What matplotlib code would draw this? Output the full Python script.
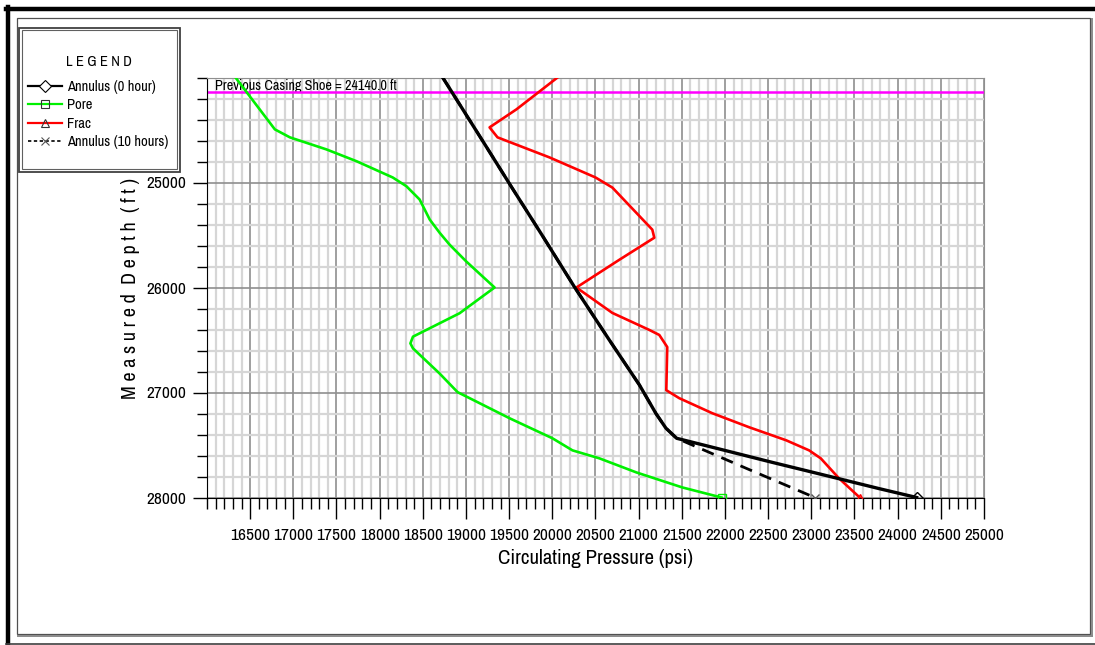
import matplotlib.pyplot as plt
from matplotlib.lines import Line2D
from matplotlib.patches import Rectangle
from matplotlib.ticker import FixedLocator, MultipleLocator

W, H = 1095, 645
NARROW = ['Archivo Narrow', 'Liberation Sans', 'DejaVu Sans']
plt.rcParams['font.family'] = NARROW

# circulating pressure profiles: measured depth (ft) vs pressure (psi)
annulus0_depth = [24000, 24600, 25040, 25500, 26000, 26500, 26930, 27200, 27340, 27436,
                  27530, 27665, 27790, 27915, 28000]
annulus0_psi = [18730, 19190, 19525, 19880, 20260, 20660, 21010, 21200, 21316, 21440,
                21895, 22546, 23167, 23783, 24220]

annulus10_depth = [24000, 24600, 25040, 25500, 26000, 26500, 26930, 27200, 27340, 27436,
                   27720, 28000]
annulus10_psi = [18730, 19190, 19525, 19880, 20260, 20660, 21010, 21200, 21316, 21440,
                 22240, 23040]

pore_depth = [24000, 24494, 24570, 24685, 24797, 24952, 25035, 25162, 25353, 25478,
              25592, 25752, 26000, 26245, 26468, 26532, 26580, 26819, 26997, 27054,
              27245, 27436, 27551, 27627, 27761, 27904, 28000]
pore_psi = [16330, 16786, 16960, 17384, 17731, 18151, 18309, 18463, 18580, 18694,
            18810, 19003, 19331, 18926, 18386, 18356, 18386, 18694, 18903, 19042,
            19504, 20001, 20233, 20545, 20973, 21505, 21960]

frac_depth = [24000, 24303, 24475, 24570, 24761, 24952, 25048, 25449, 25526, 25736,
              26000, 26242, 26404, 26452, 26567, 26978, 27054, 27197, 27331, 27455,
              27551, 27627, 27818, 28000]
frac_psi = [20060, 19585, 19273, 19365, 19967, 20500, 20695, 21158, 21181, 20776,
            20279, 20695, 21123, 21239, 21331, 21320, 21470, 21852, 22280, 22708,
            22974, 23109, 23321, 23560]

shoe_depth = 24140.0
x_major = list(range(16500, 25001, 500))
y_major = [25000, 26000, 27000, 28000]
labels = ['Annulus (0 hour)', 'Pore', 'Frac', 'Annulus (10 hours)']


def fx(px):
    return px / W


def fy(py):
    return 1 - py / H


fig = plt.figure(figsize=(W / 100, H / 100), dpi=100)
ax = fig.add_axes([fx(207), fy(497.5), (984 - 207) / W, (497.5 - 77.5) / H])

ax.set_xlim(16000, 25000)
ax.set_ylim(28000, 24000)

ax.xaxis.set_major_locator(FixedLocator(x_major))
ax.xaxis.set_minor_locator(MultipleLocator(100))
ax.yaxis.set_major_locator(FixedLocator(y_major))
ax.yaxis.set_minor_locator(MultipleLocator(200))

ax.grid(which='minor', color='#d6d6d6', lw=1.6, zorder=0)
ax.grid(which='major', color='#8f8f8f', lw=1.2, zorder=0)
ax.set_axisbelow(True)

ax.tick_params(axis='x', which='major', length=15, width=1, pad=7, labelsize=12.5)
ax.tick_params(axis='x', which='minor', length=8, width=1)
ax.tick_params(axis='y', which='major', length=10, width=1, pad=5, labelsize=12.5)
ax.tick_params(axis='y', which='minor', length=7, width=1)

for side in ('top', 'right'):
    ax.spines[side].set_color('#8f8f8f')
for side in ('left', 'bottom'):
    ax.spines[side].set_color('black')

# casing shoe marker
ax.axhline(shoe_depth, color='#ff00ff', lw=1.8, zorder=2)
ax.text(16093, 24115, 'Previous Casing Shoe = 24140.0 ft', fontsize=10.2,
        va='baseline', ha='left', zorder=1.5)

ax.plot(pore_psi, pore_depth, color='#00f000', lw=1.9, marker='s', markevery=[-1],
        ms=6, mfc='none', mec='#00f000', mew=1, zorder=3)
ax.plot(frac_psi, frac_depth, color='#ff0000', lw=1.9, marker='^', markevery=[-1],
        ms=6, mfc='none', mec='#ff0000', mew=1, zorder=3)
ax.plot(annulus10_psi, annulus10_depth, color='black', lw=2.0, ls=(0, (4.5, 3)),
        marker='x', markevery=[-1], ms=6, mec='#555555', mew=1, zorder=4)
ax.plot(annulus0_psi, annulus0_depth, color='black', lw=2.4, marker='D', markevery=[-1],
        ms=6, mfc='none', mec='black', mew=1, zorder=5)

fig.text(fx(596), fy(558), 'Circulating Pressure (psi)', fontsize=15,
         ha='center', va='center')
fig.text(fx(130), fy(289), 'M e a s u r e d  D e p t h  ( f t )', fontsize=14.5,
         rotation=90, ha='center', va='center')

# legend block
handles = [
    Line2D([], [], color='black', lw=1.6, marker='D', ms=6, mfc='white', mec='black', mew=0.8),
    Line2D([], [], color='#00f000', lw=1.6, marker='s', ms=6, mfc='none', mec='#333333', mew=0.8),
    Line2D([], [], color='#ff0000', lw=1.6, marker='^', ms=6, mfc='none', mec='#333333', mew=0.8),
    Line2D([], [], color='black', lw=1.2, ls=(0, (2, 1.5)), marker='x', ms=6, mec='#555555', mew=0.8),
]
fig.legend(handles, labels, loc='upper left', bbox_to_anchor=(fx(28), fy(80)),
           frameon=False, borderpad=0, borderaxespad=0, handlelength=2.35,
           handletextpad=0.35, labelspacing=0.3, fontsize=10.5)
fig.text(fx(99), fy(62), 'L E G E N D', fontsize=10.5, ha='center', va='center')

fig.add_artist(Rectangle((fx(18.5), fy(171.5)), (180 - 18.5) / W, (171.5 - 27.5) / H,
                         transform=fig.transFigure, fill=False, ec='#404040', lw=1.3))
fig.add_artist(Rectangle((fx(21.5), fy(168.5)), (177 - 21.5) / W, (168.5 - 30.5) / H,
                         transform=fig.transFigure, fill=False, ec='#606060', lw=0.8))

# page frame
fig.add_artist(Rectangle((fx(16.5), fy(634)), (1090 - 16.5) / W, (634 - 17.5) / H,
                         transform=fig.transFigure, fill=False, ec='#505050', lw=0.9))
fig.add_artist(Line2D([fx(18), fx(1091.5)], [fy(635.5), fy(635.5)],
                      transform=fig.transFigure, color='#8a8a8a', lw=1.4))
fig.add_artist(Line2D([fx(1091.5), fx(1091.5)], [fy(19), fy(635.5)],
                      transform=fig.transFigure, color='#8a8a8a', lw=1.4))
fig.add_artist(Line2D([fx(6), fx(1095)], [fy(8.5), fy(8.5)],
                      transform=fig.transFigure, color='black', lw=3.2))
fig.add_artist(Line2D([fx(8), fx(8)], [fy(7), fy(645)],
                      transform=fig.transFigure, color='black', lw=3.2))
fig.add_artist(Line2D([fx(6), fx(1095)], [fy(643.5), fy(643.5)],
                      transform=fig.transFigure, color='#404040', lw=1.2))

fig.savefig('out.png', dpi=100)
